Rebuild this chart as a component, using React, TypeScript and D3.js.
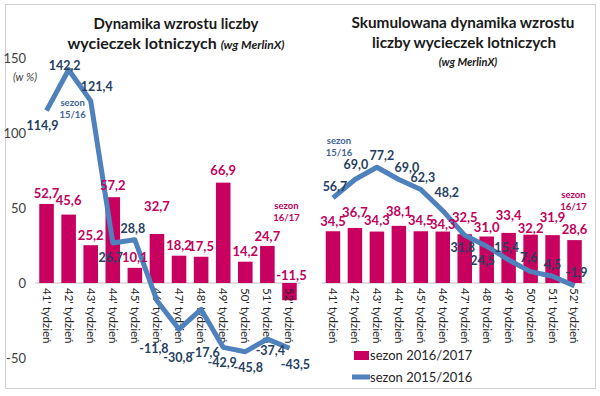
import * as d3 from 'd3'
import React, {useEffect, useRef} from 'react'

const weeks = ["41' tydzień", "42' tydzień", "43' tydzień", "44' tydzień", "45' tydzień", "46' tydzień",
  "47' tydzień", "48' tydzień", "49' tydzień", "50' tydzień", "51' tydzień", "52' tydzień"]

// weekly growth, %
const weekly1617 = [52.7, 45.6, 25.2, 57.2, 10.1, 32.7, 18.2, 17.5, 66.9, 14.2, 24.7, -11.5]
const weekly1516 = [114.9, 142.2, 121.4, 26.7, 28.8, -11.8, -30.8, -17.6, -42.9, -45.8, -37.4, -43.5]

// cumulative growth, %
const cumul1617 = [34.5, 36.7, 34.3, 38.1, 34.5, 34.3, 32.5, 31.0, 33.4, 32.2, 31.9, 28.6]
const cumul1516 = [56.7, 69.0, 77.2, 69.0, 62.3, 48.2, 31.8, 24.5, 15.4, 7.6, 4.5, -1.9]

const yTicks = [-50, 0, 50, 100, 150]

// hand placed labels, like in the original spreadsheet (pixel nudges)
const leftLineNudge = [[-4, 15], [-4, -4], [6, -14], [-2, 15], [-2, -11], [-3, 48], [-1, 28], [4, 43], [-1, 15], [3, 16], [3, 12], [6, 16]]
const rightLineNudge = [[2, -11], [1, -15], [5, -12], [8, -12], [2, -12], [4, -18], [-2, 12], [-4, 14], [-2, -12], [-2, -14], [0, -12], [2, -13]]
const leftBarNudge = [[0, -11], [0, -14], [0, -10], [0, -12], [0, -10], [0, -28], [0, -10], [0, -10], [0, -12], [0, -10], [0, -10], [2, -8]]
const rightBarNudge = [[0, -10], [0, -16], [0, -11], [0, -14], [0, -11], [0, -7], [0, -17], [0, -9], [0, -17], [0, -6], [0, -18], [0, -11]]

const PINK = '#C8005F'
const PINK_TXT = '#C0005C'
const BLUE = '#4F81BD'
const NAVY = '#26405F'
const FONT = 'Lato, "Open Sans", sans-serif'

function App() {
  const ref = useRef<SVGSVGElement>(null)

  useEffect(() => {
    const svg = d3.select(ref.current)
    svg.selectAll('*').remove()

    svg.append('rect')
      .attr('x', 5.5).attr('y', 4.5).attr('width', 590).attr('height', 384)
      .attr('fill', 'white').attr('stroke', '#D0D0D0')

    let y = d3.scaleLinear().domain([-50, 150]).range([358, 58])

    const panel = (x0: number, x1: number, bars: number[], line: number[],
                   barNudge: number[][], lineNudge: number[][]) => {
      let x = d3.scaleBand().domain(weeks).range([x0, x1]).padding(0)
      let bw = x.bandwidth() * 0.66
      let cx = (i: number) => (x(weeks[i]) as number) + x.bandwidth() / 2
      let g = svg.append('g')

      g.append('line')
        .attr('x1', x0).attr('x2', x1)
        .attr('y1', y(0)).attr('y2', y(0))
        .attr('stroke', '#BFBFBF').attr('stroke-width', 1)

      g.selectAll('rect.bar')
        .data(bars)
        .enter()
        .append('rect')
        .attr('class', 'bar')
        .attr('x', (d, i) => cx(i) - bw / 2)
        .attr('y', d => y(Math.max(0, d)))
        .attr('width', bw)
        .attr('height', d => Math.abs(y(d) - y(0)))
        .attr('fill', PINK)

      // week labels, rotated
      g.selectAll('text.wk')
        .data(weeks)
        .enter()
        .append('text')
        .attr('class', 'wk')
        .attr('transform', (d, i) => 'translate(' + cx(i) + ',' + (y(0) + 5) + ')rotate(90)')
        .attr('dy', '0.35em')
        .attr('font-size', 11.5)
        .attr('fill', '#262626')
        .text(d => d)

      g.append('path')
        .datum(line)
        .attr('d', d3.line<number>().x((d, i) => cx(i)).y(d => y(d)))
        .attr('fill', 'none')
        .attr('stroke', BLUE)
        .attr('stroke-width', 5)
        .attr('stroke-linejoin', 'round')

      g.selectAll('text.bl')
        .data(bars)
        .enter()
        .append('text')
        .attr('class', 'bl')
        .attr('x', (d, i) => cx(i) + barNudge[i][0])
        .attr('y', (d, i) => y(Math.max(0, d)) + barNudge[i][1])
        .attr('dy', '0.35em')
        .attr('text-anchor', 'middle')
        .attr('font-size', 13)
        .attr('font-weight', 'bold')
        .attr('fill', PINK_TXT)
        .text(d => d3.format('.1f')(d).replace('.', ',').replace('−', '-'))

      g.selectAll('text.ll')
        .data(line)
        .enter()
        .append('text')
        .attr('class', 'll')
        .attr('x', (d, i) => cx(i) + lineNudge[i][0])
        .attr('y', (d, i) => y(d) + lineNudge[i][1])
        .attr('dy', '0.35em')
        .attr('text-anchor', 'middle')
        .attr('font-size', 12.5)
        .attr('font-weight', 'bold')
        .attr('fill', NAVY)
        .text(d => d3.format('.1f')(d).replace('.', ',').replace('−', '-'))

      return cx
    }

    let cxL = panel(35.5, 300.5, weekly1617, weekly1516, leftBarNudge, leftLineNudge)
    let cxR = panel(322, 585.5, cumul1617, cumul1516, rightBarNudge, rightLineNudge)

    // y axis (left panel only)
    svg.append('g')
      .selectAll('text')
      .data(yTicks)
      .enter()
      .append('text')
      .attr('x', 26)
      .attr('y', d => y(d))
      .attr('dy', '0.35em')
      .attr('text-anchor', 'end')
      .attr('font-size', 13)
      .attr('fill', '#404040')
      .text(d => d3.format('d')(d).replace('−', '-'))

    svg.append('text').attr('x', 25).attr('y', 77).attr('dy', '0.35em')
      .attr('text-anchor', 'middle').attr('font-size', 11).attr('font-style', 'italic')
      .attr('fill', '#404040').text('(w %)')

    // season notes
    const note = (x: number, y0: number, col: string, a: string, b: string) => {
      let t = svg.append('text').attr('text-anchor', 'middle').attr('font-size', 9.5)
        .attr('font-weight', 'bold').attr('fill', col)
      t.append('tspan').attr('x', x).attr('y', y0).text(a)
      t.append('tspan').attr('x', x).attr('y', y0 + 12).text(b)
    }
    note(cxL(1) + 4, 106, '#3E6496', 'sezon', '15/16')
    note(cxL(11) - 3, 209, PINK_TXT, 'sezon', '16/17')
    note(cxR(0) + 6, 144, '#3E6496', 'sezon', '15/16')
    note(cxR(11) - 1, 198, PINK_TXT, 'sezon', '16/17')

    // titles
    svg.append('text').attr('x', 176).attr('y', 29).attr('text-anchor', 'middle')
      .attr('font-size', 16).attr('font-weight', 'bold').attr('fill', '#1A1A1A')
      .attr('textLength', 165).attr('lengthAdjust', 'spacingAndGlyphs')
      .text('Dynamika wzrostu liczby')
    let t2 = svg.append('text').attr('x', 176).attr('y', 49).attr('text-anchor', 'middle')
      .attr('font-size', 16).attr('font-weight', 'bold').attr('fill', '#1A1A1A')
    t2.append('tspan').text('wycieczek lotniczych ')
    t2.append('tspan').attr('font-size', 12).attr('font-style', 'italic').text('(wg MerlinX)')

    svg.append('text').attr('x', 463).attr('y', 28).attr('text-anchor', 'middle')
      .attr('font-size', 16).attr('font-weight', 'bold').attr('fill', '#1A1A1A')
      .attr('textLength', 223).attr('lengthAdjust', 'spacingAndGlyphs')
      .text('Skumulowana dynamika wzrostu')
    svg.append('text').attr('x', 464).attr('y', 48).attr('text-anchor', 'middle')
      .attr('font-size', 16).attr('font-weight', 'bold').attr('fill', '#1A1A1A')
      .attr('textLength', 184).attr('lengthAdjust', 'spacingAndGlyphs')
      .text('liczby  wycieczek lotniczych')
    svg.append('text').attr('x', 468).attr('y', 66).attr('text-anchor', 'middle')
      .attr('font-size', 11).attr('font-weight', 'bold').attr('font-style', 'italic').attr('fill', '#1A1A1A')
      .text('(wg MerlinX)')

    // legend
    let lg = svg.append('g')
    lg.append('rect').attr('x', 354).attr('y', 351).attr('width', 15).attr('height', 9).attr('fill', PINK)
    lg.append('text').attr('x', 370).attr('y', 355).attr('dy', '0.35em')
      .attr('font-size', 13).attr('fill', '#262626').text('sezon 2016/2017')
    lg.append('line').attr('x1', 352).attr('x2', 370).attr('y1', 377).attr('y2', 377)
      .attr('stroke', BLUE).attr('stroke-width', 5)
    lg.append('text').attr('x', 370).attr('y', 377).attr('dy', '0.35em')
      .attr('font-size', 13).attr('fill', '#262626').text('sezon 2015/2016')
  }, [])

  return (
    <svg ref={ref} width={600} height={396}
         style={{position: 'absolute', left: 0, top: 0, fontFamily: FONT}} />
  )
}

export default App
